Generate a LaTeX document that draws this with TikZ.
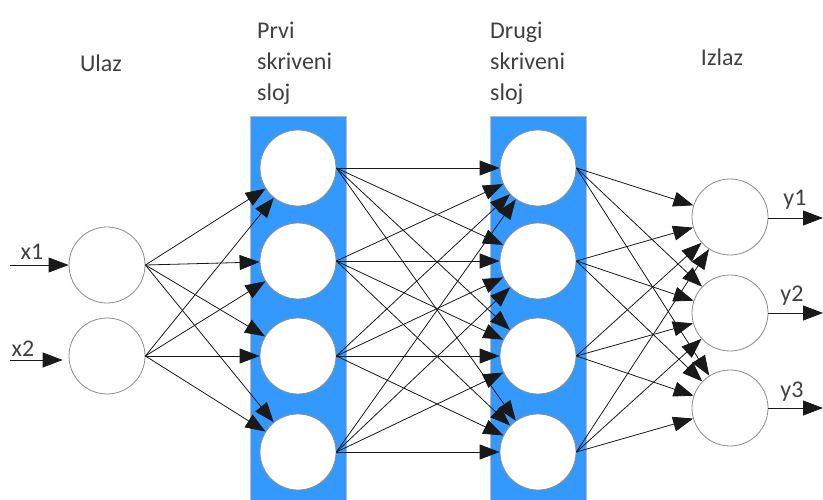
\documentclass[tikz,border=0pt]{standalone}
\usepackage{fontspec}
\setmainfont{Carlito}
\usetikzlibrary{arrows.meta}
\definecolor{layerblue}{RGB}{51,153,255}
\definecolor{ringgray}{RGB}{140,140,140}
\definecolor{labelgray}{RGB}{64,64,64}
\begin{document}
\begin{tikzpicture}[x=1pt,y=-1pt,
  neuron/.style={circle,draw=ringgray,line width=0.8pt,fill=white,minimum size=76pt,inner sep=0pt},
  layerbox/.style={fill=layerblue,draw=ringgray!60,line width=0.5pt},
  link/.style={draw=black!90,line width=0.8pt,-{Triangle[length=20pt,width=15pt]}},
  lbl/.style={font=\fontsize{24}{31}\selectfont,text=labelgray,inner sep=0pt},
  heading/.style={lbl,align=left,anchor=north west}]
\useasboundingbox (0,0) rectangle (823,500);
% hidden-layer backgrounds
\fill[layerbox] (250,116) rectangle (346,500);
\fill[layerbox] (490,116) rectangle (586,500);
% neurons
\node[neuron] (i1) at (107,265) {};
\node[neuron] (i2) at (107,356) {};
\foreach \k/\y in {1/168,2/261,3/356,4/452}{
  \node[neuron] (a\k) at (298,\y) {};
  \node[neuron] (b\k) at (538,\y) {};
}
\node[neuron] (o1) at (730,217) {};
\node[neuron] (o2) at (730,313) {};
\node[neuron] (o3) at (730,408) {};
% connections
\foreach \s in {1,2}{\foreach \t in {1,2,3,4}{\draw[link] (i\s.east) -- (a\t);}}
\foreach \s in {1,2,3,4}{\foreach \t in {1,2,3,4}{\draw[link] (a\s.east) -- (b\t);}}
\foreach \s in {1,2,3,4}{\foreach \t in {1,2,3}{\draw[link] (b\s.east) -- (o\t);}}
% inputs and outputs
\coordinate (in1) at (10,265);
\coordinate (in2) at (10,360);
\draw[link] (in1) -- (i1.west);
\draw[link,shorten >=6pt] (in2) -- (i2.west |- in2);
\foreach \k/\y in {1/218,2/313,3/408}{
  \coordinate (out\k) at (823,\y);
  \draw[link] (o\k.east |- out\k) -- (out\k);
}
% labels
\node[lbl] (lx1) at (32,252) {x1};
\node[lbl] (lx2) at (23,349) {x2};
\node[lbl] (ly1) at (795,200) {y1};
\node[lbl] (ly2) at (792,296) {y2};
\node[lbl] (ly3) at (792,392) {y3};
\node[lbl] (tin) at (101,63) {Ulaz};
\node[heading] (th1) at (257,21.5) {Prvi\\skriveni\\sloj};
\node[heading] (th2) at (490,21.5) {Drugi\\skriveni\\sloj};
\node[lbl] (tout) at (722,57) {Izlaz};
\end{tikzpicture}
\end{document}
